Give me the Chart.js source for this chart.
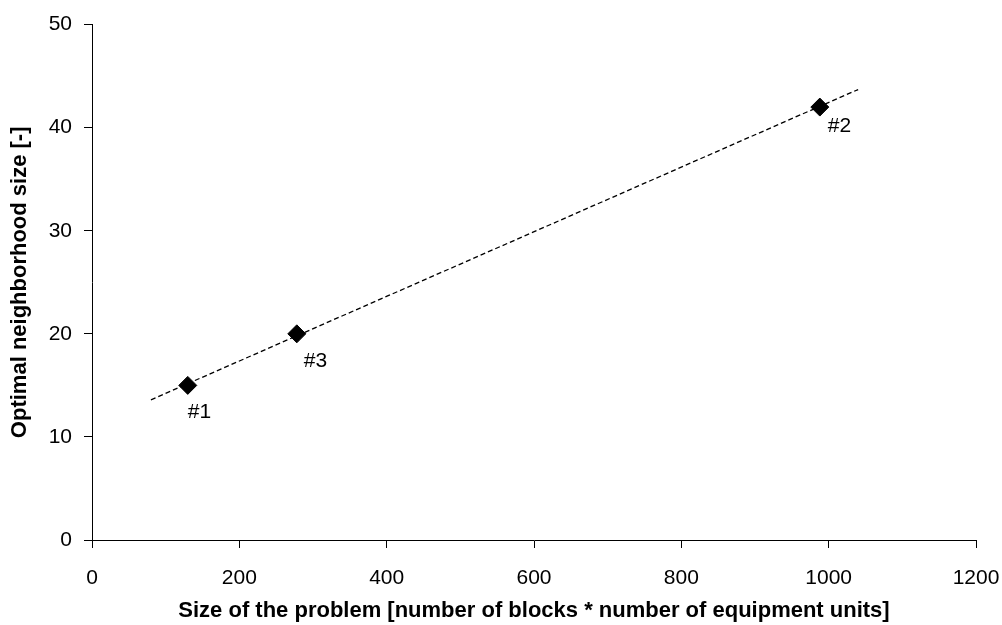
<!DOCTYPE html>
<html>
<head>
<meta charset="utf-8">
<script src="https://cdn.jsdelivr.net/npm/chart.js@4.4.1/dist/chart.umd.min.js"></script>
<style>
  html, body { margin: 0; padding: 0; background: #fff; }
</style>
</head>
<body>
<canvas id="chart1" width="1002" height="625"></canvas>
<script>
// problem instances
const caseLabels = ["#1", "#3", "#2"];
const problemSize = [130, 278, 988];
const neighborhood = [15, 20, 42];

// dashed trend line, ends
const trendX = [80, 1040];
const trendY = [13.6, 43.7];

const xTicks = [0, 200, 400, 600, 800, 1000, 1200];
const yTicks = [0, 10, 20, 30, 40, 50];

const fontFamily = "'Liberation Sans', Arial, sans-serif";

// pixel nudges for the case labels (style only)
const labelNudgeX = [0, 7, 8];
const labelNudgeY = [27, 27, 19];

// writes #1, #2, #3 just below-right of each marker
const pointLabels = {
  id: "pointLabels",
  afterDatasetsDraw(chart) {
    const ctx = chart.ctx;
    const xs = chart.scales.x, ys = chart.scales.y;
    ctx.save();
    ctx.fillStyle = "#000";
    ctx.font = "21px " + fontFamily;
    ctx.textAlign = "left";
    ctx.textBaseline = "middle";
    for (let i = 0; i < caseLabels.length; i++) {
      const px = xs.getPixelForValue(problemSize[i]);
      const py = ys.getPixelForValue(neighborhood[i]);
      ctx.fillText(caseLabels[i], px + labelNudgeX[i], py + labelNudgeY[i]);
    }
    ctx.restore();
  }
};

const ctx = document.getElementById("chart1").getContext("2d");
const myChart = new Chart(ctx, {
  type: "scatter",
  data: {
    datasets: [
      {
        label: "trend",
        data: trendX.map((x, i) => ({ x: x, y: trendY[i] })),
        showLine: true,
        borderColor: "#000",
        borderWidth: 1.3,
        borderDash: [5, 3],
        pointRadius: 0,
        order: 2,
      },
      {
        label: "cases",
        data: problemSize.map((x, i) => ({ x: x, y: neighborhood[i] })),
        pointStyle: "rectRot",
        pointRadius: 9,
        pointHoverRadius: 9,
        backgroundColor: "#000",
        borderColor: "#000",
        borderWidth: 1,
        order: 1,
      },
    ],
  },
  options: {
    responsive: false,
    animation: false,
    events: [],
    layout: { padding: { top: 24, right: 26, left: 0, bottom: 0 } },
    plugins: {
      legend: { display: false },
      tooltip: { enabled: false },
    },
    scales: {
      x: {
        type: "linear",
        min: 0,
        max: 1200,
        afterBuildTicks: (axis) => { axis.ticks = xTicks.map(v => ({ value: v })); },
        afterFit: (axis) => {
          axis.height = 85;
          axis.paddingLeft = 0;
          axis.paddingRight = 0;
        },
        grid: { drawOnChartArea: false, drawTicks: true, tickLength: 8, color: "#000", lineWidth: 1 },
        border: { color: "#000", width: 1 },
        ticks: {
          color: "#000", padding: 18, autoSkip: false, maxRotation: 0,
          font: { family: fontFamily, size: 21 },
          callback: (v) => String(v),
        },
        title: {
          display: true,
          text: "Size of the problem [number of blocks * number of equipment units]",
          color: "#000",
          font: { family: fontFamily, size: 22, weight: "bold" },
          padding: { top: 10, bottom: 1 },
        },
      },
      y: {
        type: "linear",
        min: 0,
        max: 50,
        afterBuildTicks: (axis) => { axis.ticks = yTicks.map(v => ({ value: v })); },
        afterFit: (axis) => { axis.width = 92; },
        grid: { drawOnChartArea: false, drawTicks: true, tickLength: 8, color: "#000", lineWidth: 1 },
        border: { color: "#000", width: 1 },
        ticks: {
          color: "#000", padding: 12, autoSkip: false,
          font: { family: fontFamily, size: 21 },
          callback: (v) => String(v),
        },
        title: {
          display: true,
          text: "Optimal neighborhood size [-]",
          color: "#000",
          font: { family: fontFamily, size: 22, weight: "bold" },
          padding: { top: 7, bottom: 0 },
        },
      },
    },
  },
  plugins: [pointLabels],
});
</script>
</body>
</html>
